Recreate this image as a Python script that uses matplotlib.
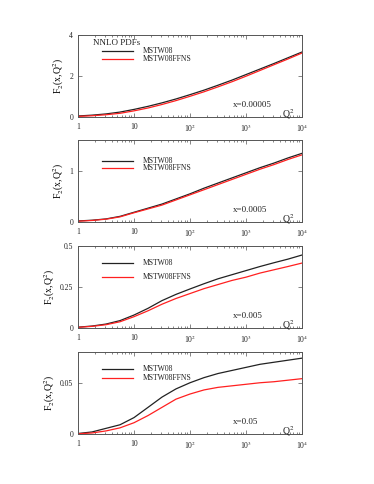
import matplotlib
matplotlib.use("Agg")
import matplotlib.pyplot as plt
import numpy as np
from matplotlib.ticker import LogLocator, FixedLocator, NullFormatter

plt.rcParams['font.family'] = ['Liberation Serif', 'DejaVu Serif']
plt.rcParams['mathtext.fontset'] = 'stix'

Q2 = [1, 1.78, 3.16, 5.62, 10, 17.8, 31.6, 56.2, 100, 178, 316, 562,
      1000, 1780, 3160, 5620, 10000]

mstw_1 = [0.05, 0.09, 0.15, 0.24, 0.37, 0.52, 0.69, 0.88, 1.09, 1.31, 1.55, 1.80,
          2.07, 2.34, 2.61, 2.89, 3.17]
ffns_1 = [0.03, 0.06, 0.11, 0.18, 0.30, 0.44, 0.61, 0.80, 1.01, 1.23, 1.47, 1.72,
          1.99, 2.27, 2.55, 2.83, 3.12]

mstw_2 = [0.02, 0.035, 0.06, 0.11, 0.19, 0.27, 0.35, 0.45, 0.55, 0.66, 0.76, 0.86,
          0.96, 1.06, 1.15, 1.25, 1.34]
ffns_2 = [0.015, 0.03, 0.055, 0.10, 0.18, 0.255, 0.33, 0.43, 0.53, 0.63, 0.73, 0.83,
          0.93, 1.03, 1.12, 1.22, 1.31]

mstw_3 = [0.005, 0.012, 0.024, 0.045, 0.079, 0.12, 0.167, 0.205, 0.238, 0.27, 0.30,
          0.325, 0.35, 0.375, 0.398, 0.42, 0.445]
ffns_3 = [0.004, 0.010, 0.020, 0.038, 0.069, 0.105, 0.145, 0.18, 0.21, 0.24, 0.265,
          0.29, 0.31, 0.335, 0.355, 0.375, 0.396]

mstw_4 = [0.0005, 0.002, 0.0055, 0.009, 0.016, 0.026, 0.036, 0.044, 0.050, 0.055,
          0.059, 0.062, 0.065, 0.068, 0.070, 0.072, 0.074]
ffns_4 = [0.0002, 0.001, 0.003, 0.006, 0.011, 0.018, 0.026, 0.034, 0.039, 0.043,
          0.0455, 0.047, 0.0485, 0.050, 0.051, 0.0525, 0.054]

x_labels = ['x=0.00005', 'x=0.0005', 'x=0.005', 'x=0.05']
y_max = [4, 1.6, 0.5, 0.08]
y_ticks = [[0, 2, 4], [0, 1], [0, 0.25, 0.5], [0, 0.05]]
y_ticklabels = [['0', '2', '4'], ['0', '1'], ['0', '0.25', '0.5'], ['0', '0.05']]
x_ticks = [1, 10, 100, 1000, 10000]
x_ticklabels = ['1', '10', '10$^{2}$', '10$^{3}$', '10$^{4}$']
series = [(mstw_1, ffns_1), (mstw_2, ffns_2), (mstw_3, ffns_3), (mstw_4, ffns_4)]

fig = plt.figure(figsize=(3.74, 4.84), dpi=100)
W, H = 374, 484
left, right = 78, 302
tops = [35, 140, 246, 352]
ph = 82
legend_rows = [(51, 59), (161, 168), (263, 277), (369, 378)]

frame_col = '#555555'
black_col = '#222222'
red_col = '#ff2020'
for i in range(4):
    top = tops[i]
    ax = fig.add_axes([left / W, (H - top - ph) / H, (right - left) / W, ph / H])
    b, r = series[i]
    ax.plot(Q2, b, color=black_col, lw=0.9, label='MSTW08', solid_joinstyle='round')
    ax.plot(Q2, r, color=red_col, lw=0.9, label='MSTW08FFNS', solid_joinstyle='round')
    ax.set_xscale('log')
    ax.set_xlim(1, 10000)
    ax.set_ylim(0, y_max[i])
    ax.xaxis.set_major_locator(FixedLocator(x_ticks))
    ax.set_xticklabels(x_ticklabels)
    ax.xaxis.set_minor_locator(LogLocator(base=10, subs=np.arange(2, 10)))
    ax.xaxis.set_minor_formatter(NullFormatter())
    ax.set_yticks(y_ticks[i])
    ax.set_yticklabels(y_ticklabels[i])
    ax.tick_params(axis='both', which='both', direction='in', top=True, right=True,
                   labelsize=5.5, colors=frame_col, labelcolor='#222222', width=0.5)
    ax.tick_params(axis='both', which='major', length=3)
    ax.tick_params(axis='x', which='minor', length=1.6)
    ax.tick_params(axis='x', which='major', pad=4)
    for s in ax.spines.values():
        s.set_color(frame_col)
        s.set_linewidth(0.7)
    ax.set_ylabel('F$_2$(x,Q$^2$)', fontsize=7, labelpad=2)
    ax.text(0.69, 0.146, x_labels[i], transform=ax.transAxes, fontsize=6.5,
            ha='left', va='center', color='#222222')
    ax.text(0.9375, 0.03, 'Q$^2$', transform=ax.transAxes, fontsize=7,
            ha='center', va='center', color='#222222', clip_on=False)
    # legend
    y1, y2 = legend_rows[i]
    lx0, lx1, tx = 102, 133, 143
    for yy, col, lab in [(y1, black_col, 'MSTW08'), (y2, red_col, 'MSTW08FFNS')]:
        fy = (top + ph - yy) / ph
        ax.plot([(lx0 - left) / (right - left), (lx1 - left) / (right - left)], [fy, fy],
                transform=ax.transAxes, color=col, lw=0.9)
        ax.text((tx - left) / (right - left), fy, lab, transform=ax.transAxes,
                fontsize=5.5, va='center', ha='left', color='#222222')
    if i == 0:
        ax.text((117 - left) / (right - left), (top + ph - 43) / ph, 'NNLO PDFs',
                transform=ax.transAxes, fontsize=6.5, ha='center', va='center',
                color='#222222')

fig.savefig('out.png', dpi=100)
